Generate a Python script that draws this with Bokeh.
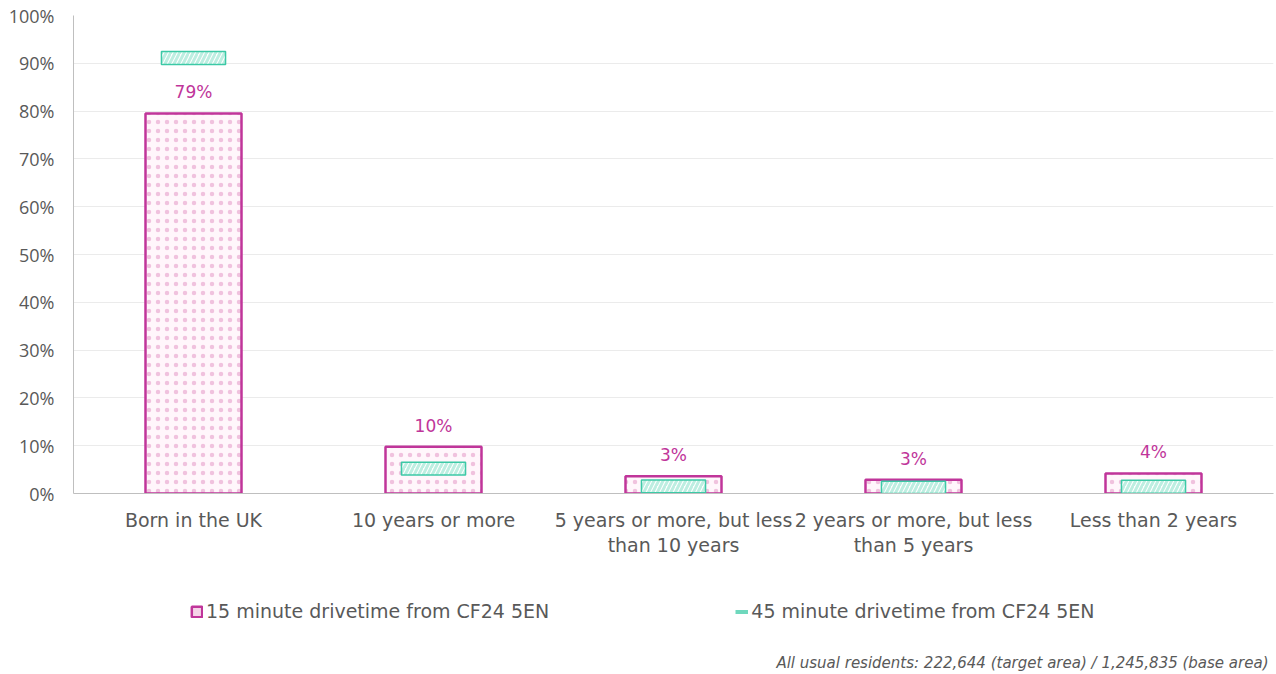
from bokeh.plotting import figure
from bokeh.layouts import column
from bokeh.models import (FactorRange, Range1d, FixedTicker, PrintfTickFormatter,
                          ColumnDataSource, Legend, LegendItem, Label)
from bokeh.core.properties import value
from bokeh.embed import file_html
from bokeh.resources import INLINE

categories = ["Born in the UK", "10 years or more",
              "5 years or more, but less\nthan 10 years",
              "2 years or more, but less\nthan 5 years",
              "Less than 2 years"]
target_15min = [79.5, 9.8, 3.6, 2.9, 4.2]
base_45min = [91.1, 5.2, 1.5, 1.2, 1.4]
labels_15min = ["79%", "10%", "3%", "3%", "4%"]
series_names = ["15 minute drivetime from CF24 5EN", "45 minute drivetime from CF24 5EN"]
y_ticks = list(range(0, 101, 10))
footnote = "All usual residents: 222,644 (target area) / 1,245,835 (base area)"

PINK = "#C0359A"
PINK_DOT = "#F0C2DE"
TEAL = "#3CC9A6"
TEAL_HATCH = "#BDEEE1"
GREY_TXT = "#595959"
FONT = "DejaVu Sans"

BOX_HALF = 1.35
src = ColumnDataSource(dict(
    cat=categories,
    top15=target_15min,
    lab=labels_15min,
    top45=[v + BOX_HALF for v in base_45min],
    bot45=[max(v - BOX_HALF, 0) for v in base_45min],
))

W = 1274
LEFT = 73
H1, H2 = 566, 107
p = figure(width=W, height=H1, x_range=FactorRange(*categories), y_range=Range1d(0, 100),
           output_backend="svg", toolbar_location=None,
           min_border_left=LEFT, min_border_right=1, min_border_top=15,
           min_border_bottom=H1 - 493)
p.outline_line_color = None
p.background_fill_color = "white"
p.x_range.range_padding = 0
p.x_range.group_padding = 0

r15 = p.vbar(x="cat", top="top15", bottom=0, width=0.4, source=src,
             fill_color="#FFF6FB", line_color=PINK, line_width=2.5,
             hatch_pattern="dot", hatch_color=PINK_DOT, hatch_scale=9, hatch_weight=5)
r45 = p.vbar(x="cat", top="top45", bottom="bot45", width=0.267, source=src,
             fill_color="white", line_color=TEAL, line_width=1.5,
             hatch_pattern="right_diagonal_line", hatch_color=TEAL_HATCH,
             hatch_scale=9, hatch_weight=3)

p.text(x="cat", y="top15", text="lab", source=src, text_align="center",
       text_baseline="middle", y_offset=-21, text_color=PINK,
       text_font=value(FONT), text_font_size="17px")

# axes
p.yaxis.ticker = FixedTicker(ticks=y_ticks)
p.yaxis.formatter = PrintfTickFormatter(format="%d%%")
p.yaxis.major_tick_line_color = None
p.yaxis.minor_tick_line_color = None
p.yaxis.major_tick_out = 0
p.yaxis.major_label_standoff = 19
p.yaxis.axis_line_color = "#BFBFBF"
p.yaxis.major_label_text_font = "Open Sans"
p.yaxis.major_label_text_font_size = "18px"
p.yaxis.major_label_text_color = GREY_TXT

p.xaxis.major_tick_line_color = None
p.xaxis.major_tick_out = 0
p.xaxis.axis_line_color = "#BFBFBF"
p.xaxis.major_label_standoff = 15
p.xaxis.major_label_text_font = FONT
p.xaxis.major_label_text_font_size = "19px"
p.xaxis.major_label_text_color = GREY_TXT
p.xaxis.major_label_text_line_height = 1.15

p.xgrid.grid_line_color = None
p.ygrid.grid_line_color = "#EBEBEB"
p.ygrid.ticker = FixedTicker(ticks=y_ticks)

# legend + footnote panel (its frame is aligned with the chart frame above)
q = figure(width=W, height=H2, x_range=Range1d(0, 1), y_range=Range1d(0, 1),
           output_backend="svg", toolbar_location=None,
           min_border_left=LEFT, min_border_right=1, min_border_top=0, min_border_bottom=0)
q.axis.visible = False
q.grid.grid_line_color = None
q.outline_line_color = None
leg_pink = q.quad(left=[-5], right=[-4], bottom=[-5], top=[-4],
                  fill_color="#F5D3E8", line_color=PINK, line_width=2.5)
leg_teal = q.line(x=[-5, -4], y=[-5, -5], line_color="#6FD8BD", line_width=4)
legend = Legend(items=[LegendItem(label=series_names[0], renderers=[leg_pink]),
                       LegendItem(label=series_names[1], renderers=[leg_teal])],
                orientation="horizontal", location=(190 - LEFT, H2 - 45 - 11),
                glyph_width=13, glyph_height=13, label_standoff=3, spacing=186,
                padding=0, margin=0, border_line_alpha=0, background_fill_alpha=0,
                label_text_font=FONT, label_text_font_size="19px",
                label_text_color=GREY_TXT, label_height=22)
q.add_layout(legend, "center")

q.add_layout(Label(x=1268 - LEFT, y=H2 - 96, x_units="screen", y_units="screen",
                   text=footnote, text_align="right", text_baseline="middle",
                   text_font=FONT, text_font_style="italic", text_font_size="15px",
                   text_color=GREY_TXT))

layout = column(p, q, spacing=0)
open("out.html", "w").write(file_html(layout, INLINE))
